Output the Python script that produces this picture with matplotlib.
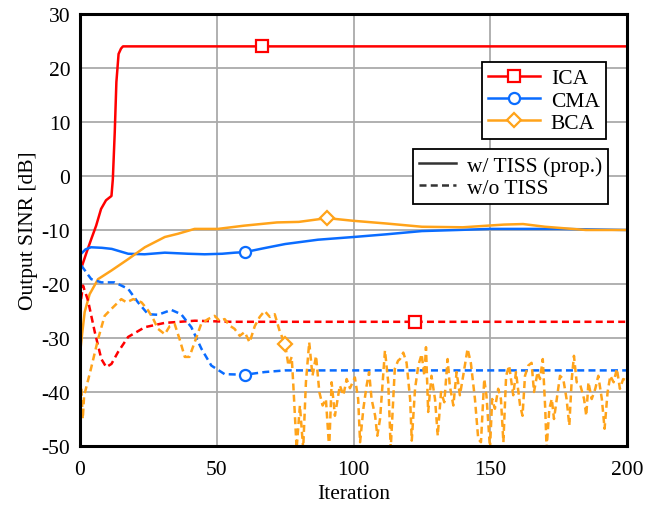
import numpy as np
import matplotlib.pyplot as plt
from matplotlib.lines import Line2D

plt.rcParams['font.family'] = ['Liberation Serif', 'DejaVu Serif']
plt.rcParams['font.size'] = 15.5
plt.rcParams['axes.unicode_minus'] = False

# ICA, con TISS
ica_x = [0.7, 2.5, 4.1, 5.9, 7.7, 9.5, 11.5, 12.0, 12.7, 13.3, 14.1, 15.0, 15.7, 17.0, 66.5, 200]
ica_y = [-16.7, -14.0, -11.7, -9.2, -6.1, -4.5, -3.7, -0.6, 8.1, 17.4, 22.6, 23.6, 24.0, 24.0, 24.0, 24.0]

# CMA, con TISS
cma_x = [0.4, 2.0, 4.0, 8.0, 11.6, 17.6, 23.6, 31.0, 39.5, 45.6, 52.0, 56.6, 60.3, 67.0,
         75.0, 87.0, 100.0, 112.0, 125.0, 138.0, 150.0, 162.0, 175.0, 188.0, 200.0]
cma_y = [-14.4, -13.6, -13.2, -13.3, -13.5, -14.4, -14.5, -14.2, -14.4, -14.5, -14.4, -14.2, -14.1, -13.4,
         -12.6, -11.8, -11.3, -10.8, -10.2, -10.0, -9.8, -9.8, -9.8, -9.9, -10.0]

# BCA, con TISS
bca_x = [0.0, 0.6, 1.7, 3.5, 6.6, 11.5, 17.6, 23.7, 31.0, 35.8, 41.9, 50.4, 60.0, 72.0,
         80.0, 90.3, 100.0, 112.0, 125.0, 140.0, 155.0, 162.0, 170.0, 185.0, 200.0]
bca_y = [-33.0, -30.0, -25.2, -21.9, -19.1, -17.5, -15.4, -13.2, -11.3, -10.7, -9.8, -9.8, -9.2, -8.6,
         -8.5, -7.8, -8.3, -8.8, -9.4, -9.5, -9.0, -8.9, -9.4, -10.0, -10.0]

# ICA, sin TISS
ica_n_x = [0.4, 1.1, 2.9, 5.4, 7.8, 9.6, 11.5, 13.9, 17.6, 23.7, 31.0, 42.0, 55.0, 122.5, 200]
ica_n_y = [-22.8, -20.3, -23.0, -28.9, -33.9, -35.4, -34.8, -32.6, -29.8, -28.0, -27.2, -26.8, -27.0, -27.0, -27.0]

# CMA, sin TISS
cma_n_x = [0.5, 4.1, 7.8, 12.7, 17.6, 21.2, 24.9, 28.5, 33.4, 37.0, 40.7, 44.4, 48.0, 52.9,
           60.3, 67.6, 75.0, 200]
cma_n_y = [-16.6, -19.1, -19.7, -19.7, -20.9, -23.4, -25.6, -25.7, -24.8, -25.6, -28.0, -32.0, -35.1, -36.7,
           -36.8, -36.3, -36.0, -36.0]

# BCA, sin TISS
bca_n_x = [0.5, 1.0, 1.5, 4.0, 6.6, 9.0, 11.5, 15.1, 17.0, 19.5, 22.5, 24.9, 26.8, 28.5, 31.0, 32.8,
           34.6, 36.4, 38.3, 40.0, 41.9, 44.3, 46.8, 49.2, 51.0, 52.9, 54.7, 56.5, 58.4, 60.2, 62.0,
           63.9, 65.7, 67.5, 69.4, 71.2, 73.1, 75.0, 76.2, 77.4, 78.0, 79.2, 80.4, 81.6, 82.6, 83.8,
           85.0, 86.3, 87.5, 88.7, 89.9, 91.1, 92.0, 93.2, 95.0, 96.3, 97.5, 98.7, 100.5, 101.7, 102.4,
           103.6, 104.8, 105.7, 106.6, 107.9, 108.7, 109.7, 111.5, 112.7, 113.6, 115.1, 116.3, 117.0,
           118.2, 119.4, 120.7, 121.3, 122.5, 123.7, 124.9, 125.9, 126.5, 127.3, 128.5, 129.8, 130.8,
           132.0, 133.2, 134.4, 135.2, 136.5, 137.7, 138.9, 140.1, 141.7, 142.9, 144.4, 145.6, 146.6,
           147.8, 148.6, 149.9, 150.7, 151.7, 152.9, 153.9, 154.8, 155.8, 156.9, 158.4, 159.4, 160.9,
           161.8, 162.7, 163.9, 165.1, 166.0, 167.3, 168.2, 169.2, 170.1, 170.6, 171.6, 172.5, 173.3,
           174.3, 175.5, 176.7, 177.9, 178.9, 179.8, 180.6, 181.6, 182.8, 184.3, 185.1, 185.9, 187.1,
           188.4, 189.5, 190.8, 191.8, 192.9, 193.9, 195.1, 196.3, 197.4, 198.6, 200.0]
bca_n_y = [-39.4, -45.0, -40.7, -35.7, -30.2, -25.9, -24.6, -22.8, -23.4, -22.8, -23.4, -24.9, -26.5,
           -28.3, -29.3, -27.8, -27.4, -30.2, -33.5, -33.5, -30.8, -27.4, -26.5, -25.9, -26.8, -26.5,
           -27.7, -28.3, -29.6, -28.9, -30.8, -27.8, -26.1, -25.0, -26.1, -25.6, -28.9, -31.1, -35.1,
           -33.5, -38.8, -50.5, -42.5, -50.5, -38.2, -30.8, -37.0, -33.3, -40.0, -42.5, -41.3, -50.5,
           -38.2, -44.4, -38.8, -40.6, -37.6, -39.3, -37.3, -41.3, -49.3, -43.1, -38.8, -36.3, -41.3,
           -44.4, -48.1, -45.0, -32.3, -38.2, -50.5, -35.7, -34.2, -33.9, -32.7, -34.6, -41.3, -49.0,
           -39.4, -35.1, -33.0, -37.0, -31.7, -43.7, -37.0, -41.3, -48.1, -40.0, -41.9, -33.9, -38.8,
           -42.5, -36.3, -40.6, -37.0, -32.0, -34.6, -41.3, -48.7, -49.3, -37.6, -40.6, -50.5, -41.3,
           -43.1, -39.4, -41.3, -49.3, -37.0, -35.1, -40.6, -36.3, -42.5, -44.4, -37.0, -35.1, -34.6,
           -40.0, -36.3, -37.6, -33.9, -43.1, -50.5, -43.1, -41.3, -45.0, -41.3, -37.0, -37.6, -41.3,
           -46.2, -37.6, -33.3, -38.2, -38.5, -41.3, -44.4, -38.2, -41.3, -39.4, -37.0, -41.3, -46.8,
           -40.0, -37.0, -38.2, -35.7, -39.4, -37.6, -37.9]

RED, BLUE, ORANGE = '#ff0000', '#0a6cff', '#ffa31a'
DASH = (2.8, 1.7)

# iteración donde va el marcador de cada curva
series = [
    (ica_x, ica_y, RED, 's', '-', 66.5),
    (cma_x, cma_y, BLUE, 'o', '-', 60.3),
    (bca_x, bca_y, ORANGE, 'D', '-', 90.3),
    (ica_n_x, ica_n_y, RED, 's', '--', 122.5),
    (cma_n_x, cma_n_y, BLUE, 'o', '--', 60.3),
    (bca_n_x, bca_n_y, ORANGE, 'D', '--', 75.0),
]

fig = plt.figure(figsize=(6.58, 5.06), dpi=100)
ax = fig.add_axes([0.1216, 0.1166, 0.8313, 0.8538])

for x, y, c, m, ls, mk in series:
    x = np.asarray(x)
    idx = int(np.argmin(np.abs(x - mk)))
    ms = 7.5 if m == 'D' else 8
    kw = dict(dashes=DASH) if ls == '--' else {}
    ax.plot(x, y, color=c, lw=1.8, linestyle=ls, marker=m, markevery=[idx],
            ms=ms, mfc='white', mec=c, mew=1.6, **kw)

ax.set_xlim(0, 200)
ax.set_ylim(-50, 30)
ax.set_xticks([0, 50, 100, 150, 200])
ax.set_yticks(np.arange(-50, 31, 10))
ax.grid(True, color='#aaaaaa', lw=1.3)
ax.set_axisbelow(True)
ax.tick_params(direction='in', length=0)
ax.tick_params(axis='y', pad=7)
ax.tick_params(axis='x', pad=10)
for s in ax.spines.values():
    s.set_linewidth(2.2)
ax.set_xlabel('Iteration', labelpad=4)
ax.set_ylabel('Output SINR [dB]', labelpad=2.5)

h1 = [Line2D([], [], color=RED, lw=1.8, marker='s', ms=8, mfc='white', mew=1.6),
      Line2D([], [], color=BLUE, lw=1.8, marker='o', ms=8, mfc='white', mew=1.6),
      Line2D([], [], color=ORANGE, lw=1.8, marker='D', ms=7.5, mfc='white', mew=1.6)]
leg1 = ax.legend(h1, ['ICA', 'CMA', 'BCA'], loc='upper right', bbox_to_anchor=(0.962, 0.889),
                 fancybox=False, edgecolor='black', framealpha=1, handlelength=2.4,
                 handletextpad=0.5, borderpad=0.3, labelspacing=0.1, borderaxespad=0)
leg1.get_frame().set_linewidth(1.3)
ax.add_artist(leg1)

h2 = [Line2D([], [], color='#333333', lw=1.8),
      Line2D([], [], color='#333333', lw=1.8, dashes=DASH)]
leg2 = ax.legend(h2, ['w/ TISS (prop.)', 'w/o TISS'], loc='upper right', bbox_to_anchor=(0.966, 0.6875),
                 fancybox=False, edgecolor='black', framealpha=1, handlelength=1.7,
                 handletextpad=0.5, borderpad=0.3, labelspacing=0.1, borderaxespad=0)
leg2.get_frame().set_linewidth(1.3)

fig.savefig('out.png', dpi=100)
